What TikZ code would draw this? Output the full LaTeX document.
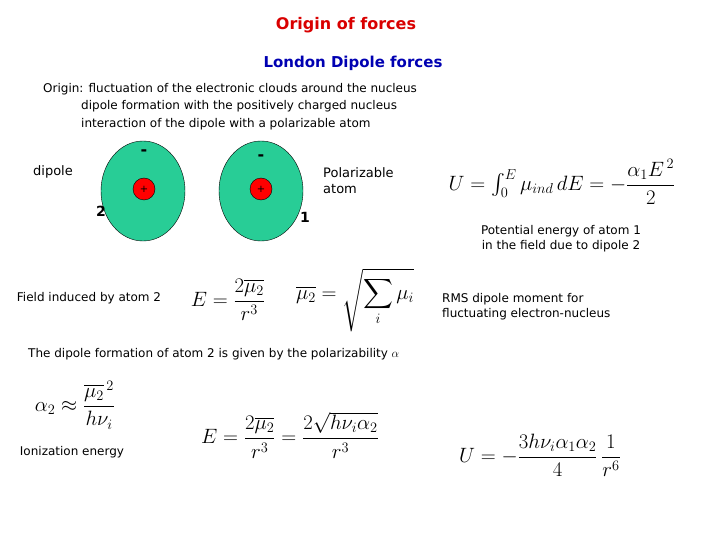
\documentclass[tikz,border=0pt]{standalone}
\usepackage{fontspec}
\usepackage{amsmath}
\setmainfont{DejaVu Sans}
\definecolor{cloud}{RGB}{40,205,150}
\begin{document}
\begin{tikzpicture}[x=1pt,y=-1pt,
  txt/.style={font=\fontsize{12}{15}\selectfont, inner sep=0pt},
  lbl/.style={font=\fontsize{13}{16}\selectfont, inner sep=0pt},
  eq/.style={font=\fontsize{20}{24}\selectfont, inner sep=0pt},
  minus/.style={font=\bfseries\fontsize{16}{16}\selectfont, inner sep=0pt},
  nuc/.style={circle, draw=black, fill=red, minimum size=22pt, inner sep=0pt, font=\fontsize{10}{10}\selectfont}]
\useasboundingbox (0,0) rectangle (720,540);
\node[font=\bfseries\fontsize{16}{20}\selectfont, text=red!85!black] (title) at (346,25) {Origin of forces};
\node[font=\bfseries\fontsize{15}{19}\selectfont, text=blue!70!black] (sub) at (353,63) {London Dipole forces};
\node[txt, anchor=west] (o1) at (43,89) {Origin: fluctuation of the electronic clouds around the nucleus};
\node[txt, anchor=west] (o2) at (81,106) {dipole formation with the positively charged nucleus};
\node[txt, anchor=west] (o3) at (81,124) {interaction of the dipole with a polarizable atom};
% atoms
\draw[draw=black, fill=cloud] (143,191) ellipse [x radius=42, y radius=50];
\node[nuc] (n2) at (144,189) {+};
\node[minus] (m2) at (144,153) {-};
\draw[draw=black, fill=cloud] (261,191) ellipse [x radius=42, y radius=50];
\node[nuc] (n1) at (261,189) {+};
\node[minus] (m1) at (261,158) {-};
\node[lbl, font=\bfseries\fontsize{14}{16}\selectfont] (two) at (101,211) {2};
\node[lbl, font=\bfseries\fontsize{14}{16}\selectfont] (one) at (305,217) {1};
\node[lbl] (dip) at (53,172) {dipole};
\node[lbl, anchor=west, align=left] (pol) at (323,181) {Polarizable\\atom};
% equations
\node[eq] (U1) at (562,182) {$U=\int_0^E \mu_{ind}\,dE=-\dfrac{\alpha_1E^{\,2}}{2}$};
\node[txt, align=center] (pe) at (561,239) {Potential energy of atom 1\\in the field due to dipole 2};
\node[txt] (fi) at (89,298) {Field induced by atom 2};
\node[eq] (E1) at (228,300) {$E=\dfrac{2\overline{\mu_2}}{r^3}$};
\node[eq] (mu) at (355,300) {$\overline{\mu_2}=\sqrt{\displaystyle\sum_i \mu_i}$};
\node[txt, anchor=west, align=left] (rms) at (442,307) {RMS dipole moment for\\fluctuating electron-nucleus};
\node[txt, anchor=west] (pz) at (28,354) {The dipole formation of atom 2 is given by the polarizability $\alpha$};
\node[eq] (a2) at (75,405) {$\alpha_2\approx\dfrac{\overline{\mu_2}^{\,2}}{h\nu_i}$};
\node[txt] (ie) at (72,452) {Ionization energy};
\node[eq] (E2) at (290,435) {$E=\dfrac{2\overline{\mu_2}}{r^3}=\dfrac{2\sqrt{h\nu_i\alpha_2}}{r^3}$};
\node[eq, font=\fontsize{22}{26}\selectfont] (U2) at (540,455) {$U=-\dfrac{3h\nu_i\alpha_1\alpha_2}{4}\,\dfrac{1}{r^6}$};
\end{tikzpicture}
\end{document}
